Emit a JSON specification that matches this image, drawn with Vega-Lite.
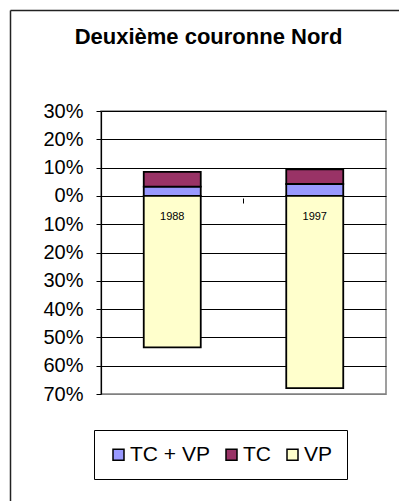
{
  "$schema": "https://vega.github.io/schema/vega-lite/v6.json",
  "width": 285,
  "height": 283,
  "autosize": {"type": "none"},
  "padding": {"left": 101, "top": 111, "right": 13, "bottom": 107},
  "background": "white",
  "title": {
    "text": "Deuxième couronne Nord",
    "font": "Liberation Sans",
    "fontSize": 22,
    "fontWeight": "bold",
    "color": "black",
    "anchor": "middle",
    "frame": "group",
    "dx": -35,
    "baseline": "alphabetic",
    "offset": -56
  },
  "data": {
    "values": [
      {"annee": "1988", "mode": "TC + VP", "part": 0.033},
      {"annee": "1988", "mode": "TC", "part": 0.052},
      {"annee": "1988", "mode": "VP", "part": -0.535},
      {"annee": "1997", "mode": "TC + VP", "part": 0.042},
      {"annee": "1997", "mode": "TC", "part": 0.052},
      {"annee": "1997", "mode": "VP", "part": -0.679}
    ]
  },
  "layer": [
    {
      "layer": [
        {
          "mark": {"type": "bar", "stroke": "black", "strokeWidth": 1.8},
          "encoding": {
            "x": {
              "field": "annee",
              "type": "nominal",
              "scale": {"paddingInner": 0.6, "paddingOuter": 0.3},
              "axis": {
                "orient": "bottom",
                "offset": -196,
                "bandPosition": -0.75,
                "labels": false,
                "domain": false,
                "ticks": true,
                "tickSize": 5,
                "tickColor": "black",
                "tickWidth": 1,
                "grid": false,
                "title": null
              }
            },
            "y": {
              "field": "part",
              "type": "quantitative",
              "stack": "zero",
              "scale": {"domain": [-0.7, 0.3], "nice": false, "zero": false},
              "axis": {
                "values": [0.3, 0.2, 0.1, 0, -0.1, -0.2, -0.3, -0.4, -0.5, -0.6, -0.7],
                "tickCount": 11,
                "labelExpr": "format(abs(datum.value), '.0%')",
                "labelFont": "Liberation Sans",
                "labelFontSize": 20,
                "labelColor": "black",
                "labelPadding": 13,
                "labelBaseline": "middle",
                "labelFlush": false,
                "labelOverlap": false,
                "labelBound": false,
                "tickSize": 5,
                "tickColor": "black",
                "tickWidth": 1,
                "domainColor": "black",
                "domainWidth": 1.2,
                "grid": true,
                "gridColor": {"condition": {"test": "datum.value < -0.65", "value": "#808080"}, "value": "black"},
                "gridWidth": 1,
                "gridOpacity": 1,
                "title": null
              }
            },
            "color": {
              "field": "mode",
              "type": "nominal",
              "scale": {
                "domain": ["TC + VP", "TC", "VP"],
                "range": ["#9999FF", "#993366", "#FFFFCC"]
              },
              "legend": {
                "orient": "none",
                "legendX": -7,
                "legendY": 319,
                "direction": "horizontal",
                "title": null,
                "strokeColor": "black",
                "fillColor": "white",
                "padding": 14,
                "columnPadding": 11,
                "symbolType": "square",
                "symbolSize": 121,
                "symbolStrokeColor": "black",
                "symbolStrokeWidth": 1.5,
                "symbolOpacity": 1,
                "labelFont": "Liberation Sans",
                "labelFontSize": 21,
                "labelColor": "black",
                "labelOffset": 1
              }
            },
            "order": {"field": "mode", "sort": "descending"}
          }
        },
        {
          "transform": [{"filter": "datum.mode === 'VP'"}],
          "mark": {
            "type": "text",
            "font": "Liberation Sans",
            "fontSize": 11,
            "color": "black",
            "baseline": "middle",
            "dy": 21
          },
          "encoding": {
            "x": {"field": "annee", "type": "nominal"},
            "y": {"datum": 0},
            "text": {"field": "annee"}
          }
        }
      ]
    },
    {
      "mark": {"type": "point", "opacity": 0},
      "encoding": {
        "x": {
          "field": "annee",
          "type": "nominal",
          "scale": {"type": "point", "range": [-91, 298]},
          "axis": {
            "orient": "top",
            "offset": 101,
            "labels": false,
            "ticks": false,
            "grid": false,
            "title": null,
            "domainColor": "#222222",
            "domainWidth": 1.5
          }
        },
        "y": {
          "field": "part",
          "type": "quantitative",
          "scale": {"range": [390, -101]},
          "axis": {
            "orient": "left",
            "offset": 91,
            "labels": false,
            "ticks": false,
            "grid": false,
            "title": null,
            "domainColor": "#222222",
            "domainWidth": 1.5
          }
        }
      }
    }
  ],
  "resolve": {"scale": {"x": "independent", "y": "independent"}},
  "config": {
    "view": {"stroke": "#808080", "strokeWidth": 1.5},
    "font": "Liberation Sans"
  }
}
